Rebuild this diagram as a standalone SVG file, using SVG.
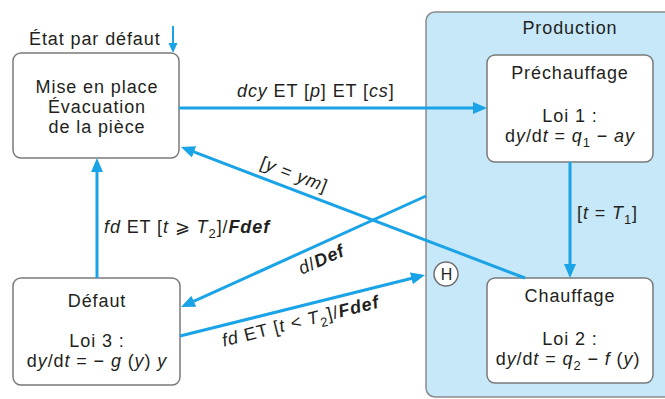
<svg xmlns="http://www.w3.org/2000/svg" width="665" height="399" viewBox="0 0 665 399">
  <style>
    .box { fill: #ffffff; stroke: #7a7a7a; stroke-width: 1.5; }
    .super { fill: #c6e8f8; stroke: #8a8a8a; stroke-width: 1.5; }
    .txt { font-family: "Liberation Sans", Arial, sans-serif; font-size: 18px; fill: #231f20; letter-spacing: 0.9px; }
    .mid { text-anchor: middle; }
    .conn { stroke: #1aa3e6; stroke-width: 3; fill: none; }
    .i { font-style: italic; }
    .bi { font-style: italic; font-weight: bold; }
    .sub { font-size: 13px; }
  </style>
  <defs>
    <marker id="head" markerUnits="userSpaceOnUse" markerWidth="14" markerHeight="12" refX="10" refY="6" orient="auto">
      <path d="M0,0 L14,6 L0,12 z" fill="#1aa3e6"/>
    </marker>
    <marker id="headSmall" markerUnits="userSpaceOnUse" markerWidth="10" markerHeight="10" refX="7" refY="5" orient="auto">
      <path d="M0,0.5 L10,5 L0,9.5 z" fill="#1aa3e6"/>
    </marker>
  </defs>

  <!-- Production superstate -->
  <g id="production">
    <rect class="super" x="426" y="12" width="260" height="385" rx="9"/>
    <text class="txt mid" x="570" y="34">Production</text>
  </g>

  <!-- History pseudo-state -->
  <g id="history">
    <circle cx="446" cy="274" r="12" fill="#ffffff" stroke="#6e6e6e" stroke-width="1.5"/>
    <text class="txt mid" x="446.5" y="280" style="font-size:16px;letter-spacing:0">H</text>
  </g>

  <!-- Initial state -->
  <g id="mise-en-place">
    <rect class="box" x="13" y="53" width="166" height="105" rx="8"/>
    <text class="txt mid" x="97" y="93">Mise en place</text>
    <text class="txt mid" x="97" y="113">Évacuation</text>
    <text class="txt mid" x="97" y="133">de la pièce</text>
  </g>

  <g id="prechauffage">
    <rect class="box" x="487" y="55" width="166" height="107" rx="8"/>
    <text class="txt mid" x="570" y="79">Préchauffage</text>
    <text class="txt mid" x="570" y="122">Loi 1 :</text>
    <text class="txt mid" x="570" y="142">d<tspan class="i">y</tspan>/d<tspan class="i">t</tspan> = <tspan class="i">q</tspan><tspan class="sub" dy="5">1</tspan><tspan dy="-5"> − </tspan><tspan class="i">ay</tspan></text>
  </g>

  <g id="chauffage">
    <rect class="box" x="487" y="278" width="166" height="105" rx="8"/>
    <text class="txt mid" x="570" y="302">Chauffage</text>
    <text class="txt mid" x="570" y="345">Loi 2 :</text>
    <text class="txt mid" x="568" y="365">d<tspan class="i">y</tspan>/d<tspan class="i">t</tspan> = <tspan class="i">q</tspan><tspan class="sub" dy="5">2</tspan><tspan dy="-5"> − </tspan><tspan class="i">f</tspan> (<tspan class="i">y</tspan>)</text>
  </g>

  <g id="defaut">
    <rect class="box" x="13" y="278" width="167" height="107" rx="8"/>
    <text class="txt mid" x="97" y="307">Défaut</text>
    <text class="txt mid" x="97" y="347">Loi 3 :</text>
    <text class="txt mid" x="97" y="367">d<tspan class="i">y</tspan>/d<tspan class="i">t</tspan> = − <tspan class="i">g</tspan> (<tspan class="i">y</tspan>) <tspan class="i">y</tspan></text>
  </g>

  <!-- Transitions -->
  <g id="connectors">
    <line class="conn" x1="173" y1="26" x2="173" y2="50" style="stroke-width:2" marker-end="url(#headSmall)"/>
    <line class="conn" x1="179" y1="108" x2="483" y2="108" marker-end="url(#head)"/>
    <line class="conn" x1="570" y1="162" x2="570" y2="274" marker-end="url(#head)"/>
    <line class="conn" x1="525" y1="278" x2="184.7" y2="148.4" marker-end="url(#head)"/>
    <line class="conn" x1="426" y1="196" x2="184.7" y2="305.4" marker-end="url(#head)"/>
    <line class="conn" x1="180" y1="336" x2="421.1" y2="276" marker-end="url(#head)"/>
    <line class="conn" x1="97" y1="278" x2="97" y2="162" marker-end="url(#head)"/>

    <text class="txt" x="29" y="45">État par défaut</text>
    <text class="txt" x="237" y="97"><tspan class="i">dcy</tspan> ET [<tspan class="i">p</tspan>] ET [<tspan class="i">cs</tspan>]</text>
    <text class="txt" x="577" y="219">[<tspan class="i">t</tspan> = <tspan class="i">T</tspan><tspan class="sub" dy="5">1</tspan><tspan dy="-5">]</tspan></text>
    <text class="txt" x="104" y="233"><tspan class="i">fd</tspan> ET [<tspan class="i">t</tspan> ⩾ <tspan class="i">T</tspan><tspan class="sub" dy="5">2</tspan><tspan dy="-5">]/</tspan><tspan class="bi">Fdef</tspan></text>
    <text class="txt mid" transform="translate(292 180) rotate(20.9)">[<tspan class="i">y</tspan> = <tspan class="i">ym</tspan>]</text>
    <text class="txt mid" transform="translate(324 265) rotate(-24)"><tspan class="i">d</tspan>/<tspan class="bi">Def</tspan></text>
    <text class="txt mid" transform="translate(302 327) rotate(-14.1)"><tspan class="i">fd</tspan> ET [<tspan class="i">t</tspan> &lt; <tspan class="i">T</tspan><tspan class="sub" dy="5">2</tspan><tspan dy="-5">]/</tspan><tspan class="bi">Fdef</tspan></text>
  </g>
</svg>
